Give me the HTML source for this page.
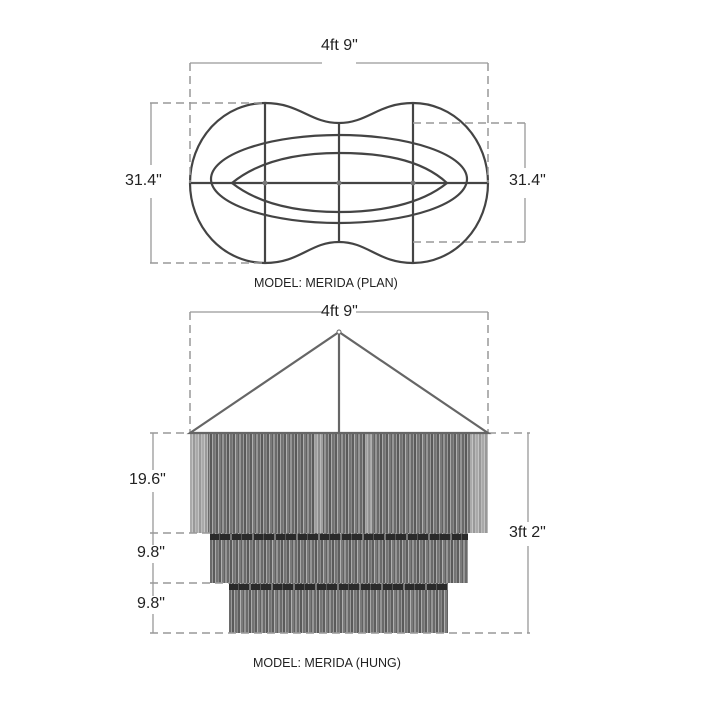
<!DOCTYPE html>
<html><head><meta charset="utf-8"><style>
body{margin:0;background:#fff;width:720px;height:720px;overflow:hidden;position:relative;font-family:"Liberation Sans",sans-serif}
.t{position:absolute;color:#222;font-size:16px;white-space:nowrap}
.f{position:absolute;background:repeating-linear-gradient(90deg,#6a6a6a 0 2px,#9a9a9a 2px 3px,#5a5a5a 3px 5px,#aaa 5px 6px,#747474 6px 8px,#888 8px 9px,#5e5e5e 9px 11px,#b0b0b0 11px 12px,#7a7a7a 12px 14px,#626262 14px 15px,#959595 15px 17px)}
.e{position:absolute;background:repeating-linear-gradient(90deg,#aaa 0 2px,#c4c4c4 2px 3px,#999 3px 5px,#bbb 5px 6px)}
.b{position:absolute;height:6px;background:repeating-linear-gradient(90deg,#2a2a2a 0 9px,#555 9px 10px,#2a2a2a 10px 20px,#777 20px 22px)}
</style></head><body>
<div class="f" style="left:190px;top:433px;width:298px;height:100px"></div>
<div class="e" style="left:190px;top:433px;width:18px;height:100px"></div>
<div class="e" style="left:470px;top:433px;width:18px;height:100px"></div>
<div class="e" style="left:315px;top:433px;width:8px;height:200px;opacity:.8"></div>
<div class="e" style="left:365px;top:433px;width:6px;height:200px;opacity:.8"></div>
<div class="f" style="left:210px;top:533px;width:258px;height:50px"></div>
<div class="f" style="left:229px;top:583px;width:219px;height:50px"></div>
<div class="b" style="left:210px;top:534px;width:258px"></div>
<div class="b" style="left:229px;top:584px;width:219px"></div>
<svg width="720" height="720" style="position:absolute;left:0;top:0">
<g fill="none" stroke="#444" stroke-width="2.2">
<path d="M265,103 A75,80 0 0 0 265,263 C300,263 310,242 339,242 C368,242 378,263 413,263 A75,80 0 0 0 413,103 C378,103 368,123 339,123 C310,123 300,103 265,103 Z"/>
<ellipse cx="339" cy="179" rx="128" ry="44"/>
<path d="M232,183 C260,160 300,153 339,153 C378,153 420,158 447,183 C420,205 378,212 339,212 C300,212 260,205 232,183 Z"/>
<line x1="190" y1="183" x2="488" y2="183"/>
<line x1="265" y1="103" x2="265" y2="263"/>
<line x1="339" y1="123" x2="339" y2="242"/>
<line x1="413" y1="103" x2="413" y2="263"/>
</g>
<g fill="#777"><circle cx="265" cy="183" r="2.5"/><circle cx="339" cy="183" r="2.5"/><circle cx="413" cy="183" r="2.5"/></g>
<g fill="none" stroke="#999" stroke-width="1.5" stroke-dasharray="8,5">
<path d="M190,63 V183 M488,63 V183 M150,103 H265 M150,263 H265 M413,123 H527 M413,242 H527"/>
<path d="M190,312 V433 M488,312 V433 M150,433 H190 M488,433 H530 M150,533 H210 M150,583 H229 M150,633 H530"/>
</g>
<g stroke="#999" stroke-width="1.3">
<path d="M190,63 H322 M356,63 H488 M151,103 V165 M151,198 V263 M525,123 V168 M525,198 V242"/>
<path d="M190,312 H322 M356,312 H488 M153,433 V470 M153,492 V533 M153,533 V545 M153,563 V583 M153,583 V596 M153,614 V633 M528,433 V522 M528,546 V633"/>
</g>
<g fill="none" stroke="#666" stroke-width="2.2">
<path d="M190,433 L339,332 L488,433 Z M339,332 V433"/>
</g>
<circle cx="339" cy="332" r="2" fill="#fff" stroke="#666"/>
</svg>
<div class="t" style="left:321px;top:37px">4ft 9"</div>
<div class="t" style="left:125px;top:172px">31.4"</div>
<div class="t" style="left:509px;top:172px">31.4"</div>
<div class="t" style="left:254px;top:276px;font-size:12.5px">MODEL: MERIDA (PLAN)</div>
<div class="t" style="left:321px;top:303px">4ft 9"</div>
<div class="t" style="left:129px;top:471px">19.6"</div>
<div class="t" style="left:137px;top:544px">9.8"</div>
<div class="t" style="left:137px;top:595px">9.8"</div>
<div class="t" style="left:509px;top:524px">3ft 2"</div>
<div class="t" style="left:253px;top:656px;font-size:12.5px">MODEL: MERIDA (HUNG)</div>
</body></html>
